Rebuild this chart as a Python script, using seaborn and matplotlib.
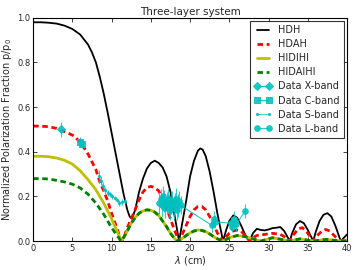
import numpy as np
import pandas as pd
import matplotlib
matplotlib.use("Agg")
import matplotlib.pyplot as plt
import seaborn as sns

# model curves (lambda in cm, normalised p/p0)
hdh_x = [0, 1, 2, 3, 4, 5, 6, 7, 7.5, 8, 8.5, 9, 9.5, 10, 10.5, 11, 11.5, 12, 12.3, 12.6,
         13, 13.5, 14, 14.5, 15, 15.5, 16, 16.5, 17, 17.5, 18, 18.3, 18.6,
         19, 19.5, 20, 20.5, 21, 21.3, 21.6, 22, 22.5, 23, 23.5, 24.2,
         24.6, 25, 25.5, 26, 26.5, 27, 27.6, 28, 28.5, 29, 29.5, 30, 30.5, 31, 31.5, 32, 32.7,
         33, 33.5, 34, 34.5, 35, 35.7, 36, 36.5, 37, 37.5, 38, 38.5, 39.2, 39.6, 40]
hdh_y = [0.98, 0.98, 0.978, 0.974, 0.965, 0.95, 0.925, 0.88, 0.845, 0.80, 0.735, 0.66, 0.575, 0.485, 0.395, 0.305, 0.215, 0.14, 0.11, 0.10,
         0.14, 0.22, 0.28, 0.325, 0.35, 0.36, 0.35, 0.33, 0.29, 0.22, 0.12, 0.06, 0.0,
         0.08, 0.18, 0.29, 0.36, 0.405, 0.415, 0.41, 0.38, 0.31, 0.22, 0.12, 0.0,
         0.05, 0.09, 0.115, 0.105, 0.07, 0.03, 0.0, 0.035, 0.055, 0.05, 0.048, 0.052, 0.058, 0.06, 0.063, 0.045, 0.0,
         0.035, 0.075, 0.09, 0.08, 0.05, 0.0, 0.04, 0.09, 0.118, 0.125, 0.11, 0.07, 0.0, 0.015, 0.03]

hdah_x = [0, 1, 2, 3, 4, 5, 6, 7, 7.5, 8, 8.5, 9, 9.5, 10, 10.5, 11, 11.3, 11.6, 12, 12.5,
          13, 13.5, 14, 14.5, 15, 15.5, 16, 16.5, 17, 17.5, 18, 18.6,
          19, 19.5, 20, 20.5, 21, 21.5, 22, 22.5, 23, 23.5, 24.2,
          24.6, 25, 25.5, 26, 26.5, 27, 27.6, 28, 28.5, 29.5, 30.5, 31.5, 32, 32.7,
          33.2, 33.8, 34.3, 34.8, 35.7, 36.2, 36.8, 37.3, 37.8, 38.5, 39.2, 40]
hdah_y = [0.515, 0.515, 0.512, 0.505, 0.49, 0.475, 0.445, 0.39, 0.355, 0.32, 0.265, 0.225, 0.18, 0.125, 0.075, 0.025, 0.0, 0.02, 0.06, 0.10,
          0.14, 0.185, 0.22, 0.24, 0.245, 0.24, 0.225, 0.19, 0.15, 0.10, 0.05, 0.0,
          0.03, 0.07, 0.11, 0.14, 0.155, 0.155, 0.14, 0.11, 0.075, 0.035, 0.0,
          0.02, 0.035, 0.045, 0.05, 0.045, 0.025, 0.0, 0.015, 0.025, 0.03, 0.035, 0.03, 0.02, 0.0,
          0.03, 0.055, 0.06, 0.045, 0.0, 0.025, 0.045, 0.052, 0.045, 0.02, 0.0, 0.01]

hidihi_x = [0, 1, 2, 3, 4, 5, 6, 7, 8, 9, 10, 10.5, 11, 11.2,
            11.6, 12, 12.5, 13, 13.5, 14, 14.5, 15, 15.5, 16, 16.5, 17, 17.5, 18, 18.4,
            19, 19.5, 20, 20.5, 21, 21.5, 22, 22.5, 23, 23.5, 24.2,
            25, 26, 27, 28, 29, 30.5, 32, 32.7, 34, 35.7, 37.3, 39.2, 40]
hidihi_y = [0.38, 0.38, 0.378, 0.372, 0.362, 0.345, 0.315, 0.275, 0.23, 0.17, 0.10, 0.06, 0.02, 0.0,
            0.02, 0.045, 0.08, 0.105, 0.125, 0.135, 0.14, 0.138, 0.13, 0.115, 0.09, 0.065, 0.035, 0.012, 0.0,
            0.012, 0.025, 0.037, 0.045, 0.05, 0.048, 0.042, 0.032, 0.02, 0.01, 0.0,
            0.015, 0.025, 0.02, 0.01, 0.0, 0.015, 0.005, 0.0, 0.01, 0.0, 0.008, 0.0, 0.002]

hidaihi_x = [0, 1, 2, 3, 4, 5, 6, 7, 8, 9, 10, 10.5, 11, 11.2,
             11.6, 12, 12.5, 13, 13.5, 14, 14.5, 15, 15.5, 16, 16.5, 17, 17.5, 18, 18.4,
             19, 19.5, 20, 20.5, 21, 21.5, 22, 22.5, 23, 23.5, 24.2,
             25, 26, 27, 28, 29, 30.5, 32, 32.7, 34, 35.7, 37.3, 39.2, 40]
hidaihi_y = [0.28, 0.28, 0.278, 0.272, 0.265, 0.255, 0.238, 0.21, 0.17, 0.12, 0.06, 0.035, 0.01, 0.0,
             0.02, 0.045, 0.08, 0.105, 0.125, 0.135, 0.14, 0.138, 0.13, 0.115, 0.09, 0.065, 0.035, 0.012, 0.0,
             0.012, 0.025, 0.037, 0.045, 0.05, 0.048, 0.042, 0.032, 0.02, 0.01, 0.0,
             0.015, 0.025, 0.02, 0.01, 0.0, 0.015, 0.005, 0.0, 0.01, 0.0, 0.008, 0.0, 0.002]

# observed data
xband_x = [3.6]
xband_y = [0.50]
xband_err = [0.035]

cband_x = [6.0, 6.2]
cband_y = [0.445, 0.435]
cband_err = [0.02, 0.02]

sband_x = [8.4, 8.6, 8.9, 9.2, 9.5, 9.8, 10.1, 10.4, 10.7, 11.0, 11.3, 11.7]
sband_y = [0.29, 0.27, 0.245, 0.228, 0.215, 0.21, 0.20, 0.192, 0.185, 0.17, 0.175, 0.18]
sband_err = [0.03, 0.02, 0.02, 0.015, 0.012, 0.012, 0.01, 0.01, 0.01, 0.012, 0.012, 0.015]

lband_x = [16.1, 16.25, 16.4, 16.55, 16.7, 16.85, 17.0, 17.15, 17.3, 17.45, 17.6, 17.75, 17.9,
           18.05, 18.2, 18.35, 18.5, 18.65, 18.8,
           22.8, 23.0, 23.2, 25.2, 25.4, 25.6, 25.9, 27.0]
lband_y = [0.17, 0.19, 0.16, 0.20, 0.18, 0.15, 0.17, 0.19, 0.16, 0.14, 0.17, 0.18, 0.15,
           0.17, 0.19, 0.14, 0.16, 0.18, 0.16,
           0.07, 0.10, 0.087, 0.08, 0.064, 0.10, 0.075, 0.135]
lband_err = [0.05, 0.045, 0.05, 0.045, 0.05, 0.045, 0.05, 0.045, 0.05, 0.045, 0.05, 0.045, 0.05,
             0.045, 0.05, 0.045, 0.05, 0.045, 0.04,
             0.03, 0.035, 0.03, 0.03, 0.025, 0.035, 0.03, 0.03]

sns.set_style("ticks")
plt.rcParams['font.family'] = ['DejaVu Sans']
plt.rcParams['xtick.direction'] = 'in'
plt.rcParams['ytick.direction'] = 'in'

fig = plt.figure(figsize=(3.6, 2.7), dpi=100)
ax = fig.add_axes([0.092, 0.107, 0.872, 0.827])

sns.lineplot(x=hdh_x, y=hdh_y, color='k', lw=1.3, label='HDH', ax=ax, sort=False)
sns.lineplot(x=hdah_x, y=hdah_y, color='r', lw=2, dashes=False, label='HDAH', ax=ax, sort=False)
ax.lines[-1].set_dashes((2, 1.3))
sns.lineplot(x=hidihi_x, y=hidihi_y, color='y', lw=2, label='HIDIHI', ax=ax, sort=False)
sns.lineplot(x=hidaihi_x, y=hidaihi_y, color='g', lw=2, label='HIDAIHI', ax=ax, sort=False)
ax.lines[-1].set_dashes((2, 1.3))

bands = [
    (xband_x, xband_y, xband_err, 'D', 4.5, 1.0, 'Data X-band'),
    (cband_x, cband_y, cband_err, 's', 4, 1.0, 'Data C-band'),
    (sband_x, sband_y, sband_err, '.', 3, 0.6, 'Data S-band'),
    (lband_x, lband_y, lband_err, 'o', 4, 0.8, 'Data L-band'),
]
for bx, by, be, mk, ms, lw, lab in bands:
    ax.errorbar(bx, by, yerr=be, fmt='none', ecolor='c', elinewidth=0.8, alpha=0.8)
    sns.lineplot(x=bx, y=by, color='c', marker=mk, markersize=ms, markeredgecolor='c',
                 lw=lw, label=lab, ax=ax, sort=False, alpha=0.85)

ax.set_xlim(0, 40)
ax.set_ylim(0, 1.0)
ax.set_xticks(np.arange(0, 41, 5))
ax.set_yticks(np.arange(0, 1.01, 0.2))
ax.tick_params(labelsize=6, length=3, width=0.6, top=True, right=True, pad=2)
for s in ax.spines.values():
    s.set_linewidth(0.8)
    s.set_color('k')
ax.set_xlabel(r'$\lambda$ (cm)', fontsize=7, labelpad=1)
ax.set_ylabel(r'Normalized Polarization Fraction p/p$_0$', fontsize=7, labelpad=2)
ax.set_title('Three-layer system', fontsize=7.5, pad=2)

leg = ax.legend(loc='upper right', fontsize=7, numpoints=2, handlelength=1.9,
                frameon=True, fancybox=False, borderpad=0.45, labelspacing=0.42,
                handletextpad=0.6, borderaxespad=0.3)
leg.get_frame().set_edgecolor('k')
leg.get_frame().set_linewidth(0.8)

fig.savefig('out.png', dpi=100)
